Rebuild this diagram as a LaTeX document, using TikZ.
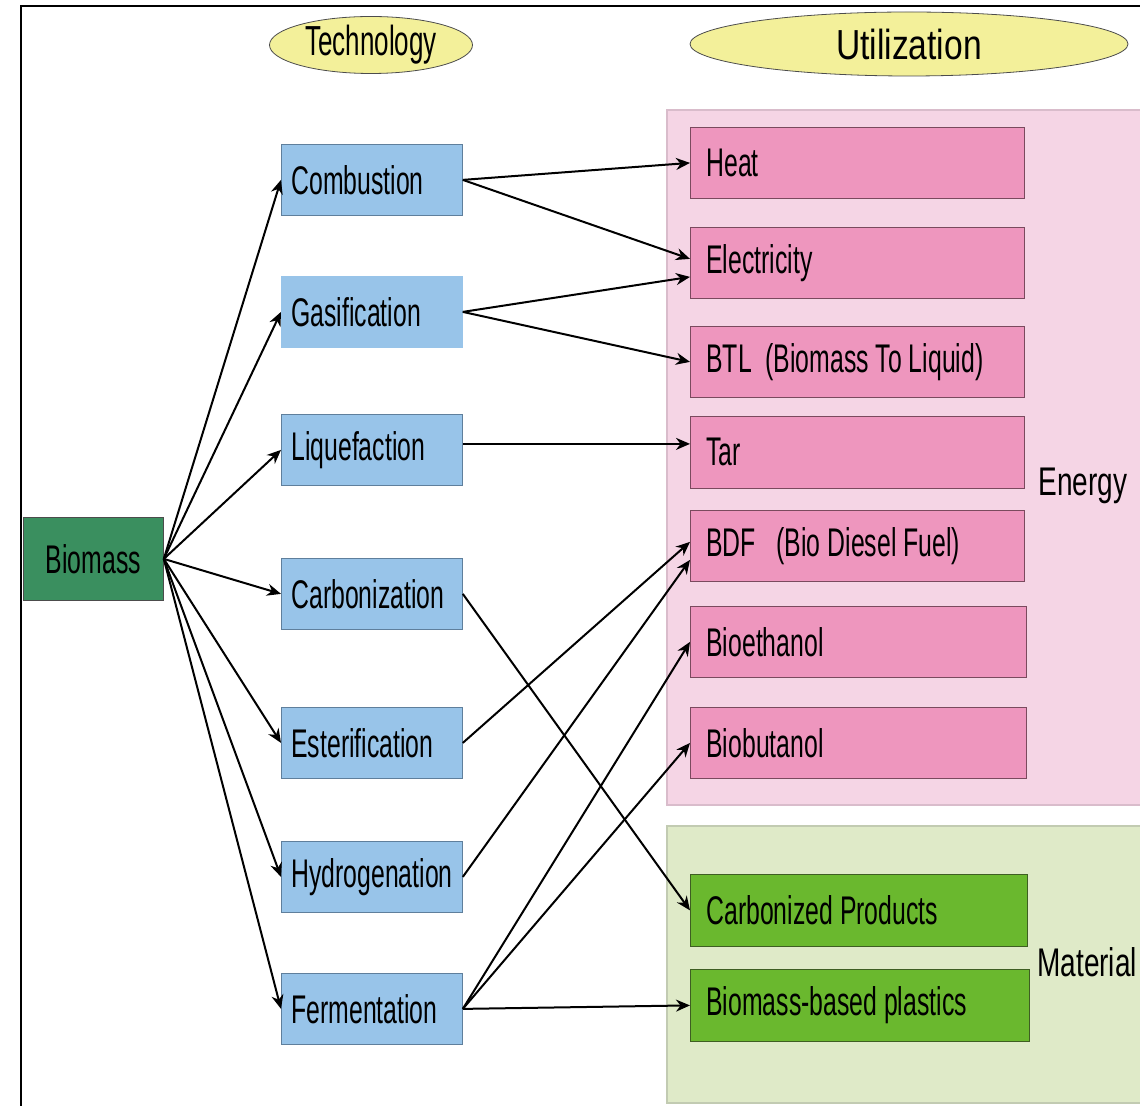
\documentclass[tikz,border=0pt]{standalone}
\usepackage{fontspec}
\setmainfont[FakeStretch=0.62]{Liberation Sans}
\newfontfamily\sidefont[FakeStretch=0.7]{Liberation Sans}
\newfontfamily\headfont[FakeStretch=0.8]{Liberation Sans}
\usepackage{tikz}
\usetikzlibrary{shapes.geometric,arrows.meta}
\newcommand{\boxfont}{\fontsize{20}{22}\selectfont}
\definecolor{techblue}{HTML}{98C4E9}
\definecolor{techedge}{HTML}{5F7F9C}
\definecolor{biogreen}{HTML}{3A8F5F}
\definecolor{useppink}{HTML}{EE96BE}
\definecolor{usepedge}{HTML}{7A4A5E}
\definecolor{energybg}{HTML}{F5D5E5}
\definecolor{energyedge}{HTML}{D9BCCB}
\definecolor{matgreen}{HTML}{6AB82E}
\definecolor{matedge}{HTML}{3E5E22}
\definecolor{materialbg}{HTML}{DFEAC8}
\definecolor{materialedge}{HTML}{C2CBB2}
\definecolor{headyellow}{HTML}{F3F09A}
\tikzstyle{head} = [ellipse, draw=black!70, fill=headyellow, inner sep=0pt]
\tikzstyle{source} = [draw=black!70, fill=biogreen, anchor=north west, minimum width=70pt, minimum height=41.5pt, font=\boxfont]
\tikzstyle{tech} = [draw=techedge, fill=techblue, anchor=north west, text width=80.5pt, inner xsep=5pt, minimum height=35.5pt, align=flush left, font=\boxfont]
\tikzstyle{energy} = [draw=usepedge, fill=useppink, anchor=north west, text width=151pt, inner xsep=8pt, minimum height=35.5pt, align=flush left, font=\boxfont]
\tikzstyle{material} = [draw=matedge, fill=matgreen, anchor=north west, text width=152.5pt, inner xsep=8pt, minimum height=36pt, align=flush left, font=\boxfont]
\tikzstyle{flow} = [-{Stealth[length=7pt,width=6pt]}, line width=1pt]

\begin{document}
\begin{tikzpicture}[x=0.5pt, y=-0.5pt]
		\useasboundingbox (0,0) rectangle (1140,1106);
		\clip (0,0) rectangle (1140,1106);
		\draw[line width=1pt] (21,6) rectangle (1160,1120);
		\draw[draw=energyedge, fill=energybg, line width=1pt] (667,110) rectangle (1160,805);
		\draw[draw=materialedge, fill=materialbg, line width=1pt] (667,826) rectangle (1160,1103);

		\node[head, minimum width=101.5pt, minimum height=28.5pt, font=\fontsize{21}{23}\selectfont] (techhead) at (371,45) {Technology};
		\node[head, minimum width=219pt, minimum height=32pt, font=\headfont\fontsize{21}{23}\selectfont] (usehead) at (909,44) {Utilization};

		\node[source] (biomass) at (23,517) {Biomass};

		\node[tech] (comb) at (281,144) {Combustion};
		\node[tech, draw=techblue] (gas) at (281,276) {Gasification};
		\node[tech] (liq) at (281,414) {Liquefaction};
		\node[tech] (carb) at (281,558) {Carbonization};
		\node[tech] (est) at (281,707) {Esterification};
		\node[tech] (hyd) at (281,841) {Hydrogenation};
		\node[tech] (ferm) at (281,973) {Fermentation};

		\node[energy] (heat) at (690,127) {Heat};
		\node[energy] (elec) at (690,227) {Electricity};
		\node[energy] (btl) at (690,326) {BTL\ \ (Biomass To Liquid)};
		\node[energy, minimum height=36pt] (tar) at (690,416) {Tar};
		\node[energy] (bdf) at (690,510) {BDF\ \ \ (Bio Diesel Fuel)};
		\node[energy, text width=152pt] (bioeth) at (690,606) {Bioethanol};
		\node[energy, text width=152pt] (biobut) at (690,707) {Biobutanol};

		\node[material] (carbprod) at (690,874) {Carbonized Products};
		\node[material, text width=153.5pt] (plastics) at (690,969) {Biomass-based plastics};

		\node[font=\sidefont\fontsize{20}{22}\selectfont] (energylabel) at (1083,486) {Energy};
		\node[anchor=west, inner sep=0pt, font=\sidefont\fontsize{20}{22}\selectfont] (materiallabel) at (1037,962) {Material};

		\foreach \t in {comb,gas,liq,carb,est,hyd,ferm}
			\draw[flow] (biomass.east) -- (\t.west);

		\draw[flow] (comb.east) -- (heat.west);
		\draw[flow] (comb.east) -- ([yshift=2pt]elec.west);
		\draw[flow] (gas.east) -- ([yshift=-7pt]elec.west);
		\draw[flow] (gas.east) -- (btl.west);
		\draw[flow] ([yshift=3pt]liq.east) -- ([yshift=3pt]liq.east -| tar.west);
		\draw[flow] (carb.east) -- (carbprod.west);
		\draw[flow] (est.east) -- ([yshift=2pt]bdf.west);
		\draw[flow] (hyd.east) -- ([yshift=-7pt]bdf.west);
		\draw[flow] (ferm.east) -- (bioeth.west);
		\draw[flow] (ferm.east) -- (biobut.west);
		\draw[flow] (ferm.east) -- (plastics.west);
\end{tikzpicture}
\end{document}
